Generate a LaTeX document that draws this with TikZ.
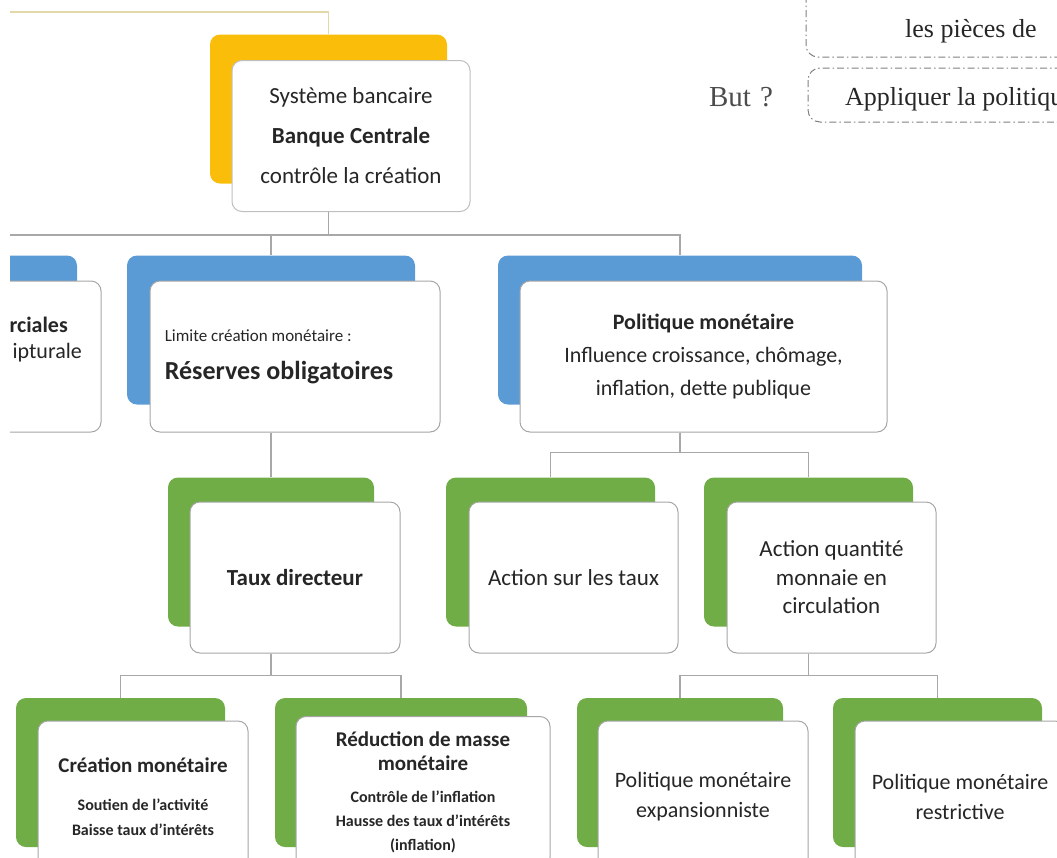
\documentclass[tikz,border=0pt]{standalone}
\usepackage{fontspec}
\setmainfont{Carlito}
\newfontfamily\seriffont{Liberation Serif}
\newcommand{\sz}[2]{\fontsize{#1}{#2}\selectfont}
\definecolor{gold}{RGB}{250,190,10}
\definecolor{skyblue}{RGB}{91,155,213}
\definecolor{leafgreen}{RGB}{112,173,71}
\definecolor{wire}{RGB}{168,168,168}
\definecolor{tan}{RGB}{228,216,170}
\tikzset{
  backbox/.style={rounded corners=10pt, minimum height=149pt, inner sep=0pt},
  frontbox/.style={draw=black!35, line width=1pt, fill=white, rounded corners=10pt,
    minimum height=151pt, inner sep=0pt, align=center, text=black!85},
  link/.style={draw=wire, line width=1.3pt},
  toplink/.style={draw=tan, line width=1.3pt},
  dashbox/.style={draw=black!50, line width=1pt, rounded corners=12pt,
    dash pattern=on 7pt off 3pt on 1.5pt off 3pt}
}
\begin{document}
\begin{tikzpicture}[x=1pt,y=-1pt]
\useasboundingbox (0,0) rectangle (1057,857);
\clip (10,0) rectangle (1057,857);

% top level
\node[backbox, fill=gold, minimum width=237pt] (sysB) at (328.5,109) {};
\node[frontbox, draw=black!25, minimum width=238pt, font=\sz{23}{40}] (sysF) at (351,136)
  {Système bancaire\\\textbf{Banque Centrale}\\contrôle la création};

% second level
\node[backbox, fill=skyblue, minimum width=288pt] (bankB) at (-67,330) {};
\node[frontbox, minimum width=290pt] (bankF) at (-44,356.5) {};
\node[anchor=east, inner sep=0pt, text=black!85, font=\sz{22}{26}\bfseries] (bankT) at (68,325) {rciales};
\node[anchor=east, inner sep=0pt, text=black!85, font=\sz{22}{26}] (bankS) at (82,353) {ipturale};

\node[backbox, fill=skyblue, minimum width=288pt] (resB) at (271,330) {};
\node[frontbox, minimum width=290pt, align=left, font=\sz{22}{38}] (resF) at (295,356.5)
  {{\sz{17}{17}Limite création monétaire :}\\{\sz{26}{26}\bfseries Réserves obligatoires}\hspace*{32pt}};

\node[backbox, fill=skyblue, minimum width=364pt] (polB) at (680,330) {};
\node[frontbox, minimum width=367pt, font=\sz{22}{33}] (polF) at (703.5,356.5)
  {\textbf{Politique monétaire}\\Influence croissance, chômage,\\inflation, dette publique};

% third level
\node[backbox, fill=leafgreen, minimum width=206pt] (tauxB) at (271,552) {};
\node[frontbox, minimum width=210pt, font=\sz{23}{28}\bfseries] (tauxF) at (295,577.5) {Taux directeur};

\node[backbox, fill=leafgreen, minimum width=209pt] (actB) at (550.5,552) {};
\node[frontbox, minimum width=209pt, font=\sz{23}{28}] (actF) at (573.5,577.5) {Action sur les taux};

\node[backbox, fill=leafgreen, minimum width=209pt] (qtyB) at (808.5,552) {};
\node[frontbox, minimum width=209pt, font=\sz{23}{28.5}] (qtyF) at (831.5,577.5)
  {Action quantité\\monnaie en\\circulation};

% fourth level
\node[backbox, fill=leafgreen, minimum width=209pt] (creB) at (120.5,772.5) {};
\node[frontbox, minimum width=210pt, font=\sz{16}{25}\bfseries] (creF) at (143,796.5)
  {{\sz{21}{25}Création monétaire}\\[13pt]Soutien de l'activité\\Baisse taux d'intérêts};

\node[backbox, fill=leafgreen, minimum width=252pt] (redB) at (401,772.5) {};
\node[frontbox, minimum width=254pt, font=\sz{16}{24}\bfseries] (redF) at (423,792)
  {{\sz{21}{25}Réduction de masse}\\{\sz{21}{25}monétaire}\\[8pt]Contrôle de l'inflation\\Hausse des taux d'intérêts\\(inflation)};

\node[backbox, fill=leafgreen, minimum width=206pt] (expB) at (680,772.5) {};
\node[frontbox, minimum width=210pt, font=\sz{22}{30}] (expF) at (703,796.5)
  {Politique monétaire\\expansionniste};

\node[backbox, fill=leafgreen, minimum width=209pt] (rstB) at (937.5,772.5) {};
\node[frontbox, minimum width=210pt, font=\sz{22}{30}] (rstF) at (960,796.5)
  {Politique monétaire\\restrictive};

% connectors
\coordinate (origin) at (-20,12);
\draw[toplink] (sysB.north) |- (origin);
\draw[link] (sysB |- sysF.south) -- ++(0,23) -| (bankB.north);
\draw[link] (sysB |- sysF.south) -- ++(0,23) -| (resB.north);
\draw[link] (sysB |- sysF.south) -- ++(0,23) -| (polB.north);
\draw[link] (resB |- resF.south) -- (tauxB.north);
\draw[link] (polB |- polF.south) -- ++(0,20) -| (actB.north);
\draw[link] (polB |- polF.south) -- ++(0,20) -| (qtyB.north);
\draw[link] (tauxB |- tauxF.south) -- ++(0,22) -| (creB.north);
\draw[link] (tauxB |- tauxF.south) -- ++(0,22) -| (redB.north);
\draw[link] (qtyB |- qtyF.south) -- ++(0,22) -| (expB.north);
\draw[link] (qtyB |- qtyF.south) -- ++(0,22) -| (rstB.north);

% goal boxes, top right
\draw[dashbox] (806,-60) rectangle (1250,57);
\node[anchor=base west, inner sep=0pt, font=\seriffont\sz{26}{30}, text=black!85] (coins) at (905,37) {les pièces de};
\draw[dashbox] (808,68) rectangle (1250,122);
\node[anchor=base west, inner sep=0pt, font=\seriffont\sz{26}{30}, text=black!85] (goal) at (845,105) {Appliquer la politique};
\node[inner sep=0pt, font=\seriffont\sz{29}{30}, text=black!70] (butq) at (741,97) {But\hspace{9pt}?};
\end{tikzpicture}
\end{document}
